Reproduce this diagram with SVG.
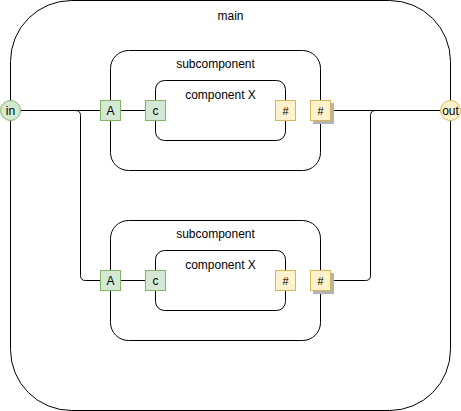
<svg xmlns="http://www.w3.org/2000/svg" width="461" height="411" viewBox="0 0 461 411">
<style>
text{font-family:"Liberation Sans",Arial,sans-serif;font-size:12px;fill:#000;text-anchor:middle}
.box{fill:none;stroke:#000;stroke-width:1}
.edge{fill:none;stroke:#000;stroke-width:1}
.pin{fill:#d5e8d4;stroke:#82b366}
.pout{fill:#fff2cc;stroke:#d6b656}
.sh{fill:#b3b3b3}
.pt{font-size:11px}
</style>
<rect width="461" height="411" fill="#fff"/>
<g id="main">
<rect class="box" x="10.5" y="0.5" width="440" height="410" rx="61" ry="61"/>
<text x="230.5" y="20">main</text>
</g>
<g id="sub1">
<rect class="box" x="110.5" y="50.5" width="210" height="120" rx="18" ry="18"/>
<text x="215.5" y="68">subcomponent</text>
</g>
<g id="compx1">
<rect class="box" x="155.5" y="80.5" width="130" height="60" rx="9" ry="9"/>
<text x="220.5" y="99">component X</text>
</g>
<g id="sub2">
<rect class="box" x="110.5" y="220.5" width="210" height="120" rx="18" ry="18"/>
<text x="215.5" y="238">subcomponent</text>
</g>
<g id="compx2">
<rect class="box" x="155.5" y="250.5" width="130" height="60" rx="9" ry="9"/>
<text x="220.5" y="269">component X</text>
</g>
<g id="connectors">
<path class="edge" d="M20.5 110.5H100.5"/>
<path class="edge" d="M20.5 110.5H75.5Q80.5 110.5 80.5 115.5V275.5Q80.5 280.5 85.5 280.5H100.5"/>
<path class="edge" d="M120.5 110.5H145.5"/>
<path class="edge" d="M120.5 280.5H145.5"/>
<path class="edge" d="M330.5 110.5H440.5"/>
<path class="edge" d="M330.5 280.5H365.5Q370.5 280.5 370.5 275.5V115.5Q370.5 110.5 375.5 110.5H440.5"/>
</g>
<g id="in">
<circle class="pin" cx="10.5" cy="110.5" r="10"/>
<text x="10.5" y="114.5">in</text>
</g>
<g id="out">
<circle class="pout" cx="450.5" cy="110.5" r="10"/>
<text x="450.5" y="114.5">out</text>
</g>
<g id="A1">
<rect class="pin" x="100.5" y="100.5" width="20" height="20"/>
<text x="110.5" y="114.5">A</text>
</g>
<g id="c1">
<rect class="pin" x="145.5" y="100.5" width="20" height="20"/>
<text x="155.5" y="114.5">c</text>
</g>
<g id="hx1">
<rect class="pout" x="275.5" y="100.5" width="20" height="20"/>
<text class="pt" x="285.5" y="114.5">#</text>
</g>
<g id="hs1">
<rect class="sh" x="313" y="103" width="21" height="21"/>
<rect class="pout" x="310.5" y="100.5" width="20" height="20"/>
<text class="pt" x="320.5" y="114.5">#</text>
</g>
<g id="A2">
<rect class="pin" x="100.5" y="270.5" width="20" height="20"/>
<text x="110.5" y="284.5">A</text>
</g>
<g id="c2">
<rect class="pin" x="145.5" y="270.5" width="20" height="20"/>
<text x="155.5" y="284.5">c</text>
</g>
<g id="hx2">
<rect class="pout" x="275.5" y="270.5" width="20" height="20"/>
<text class="pt" x="285.5" y="284.5">#</text>
</g>
<g id="hs2">
<rect class="sh" x="313" y="273" width="21" height="21"/>
<rect class="pout" x="310.5" y="270.5" width="20" height="20"/>
<text class="pt" x="320.5" y="284.5">#</text>
</g>
</svg>
